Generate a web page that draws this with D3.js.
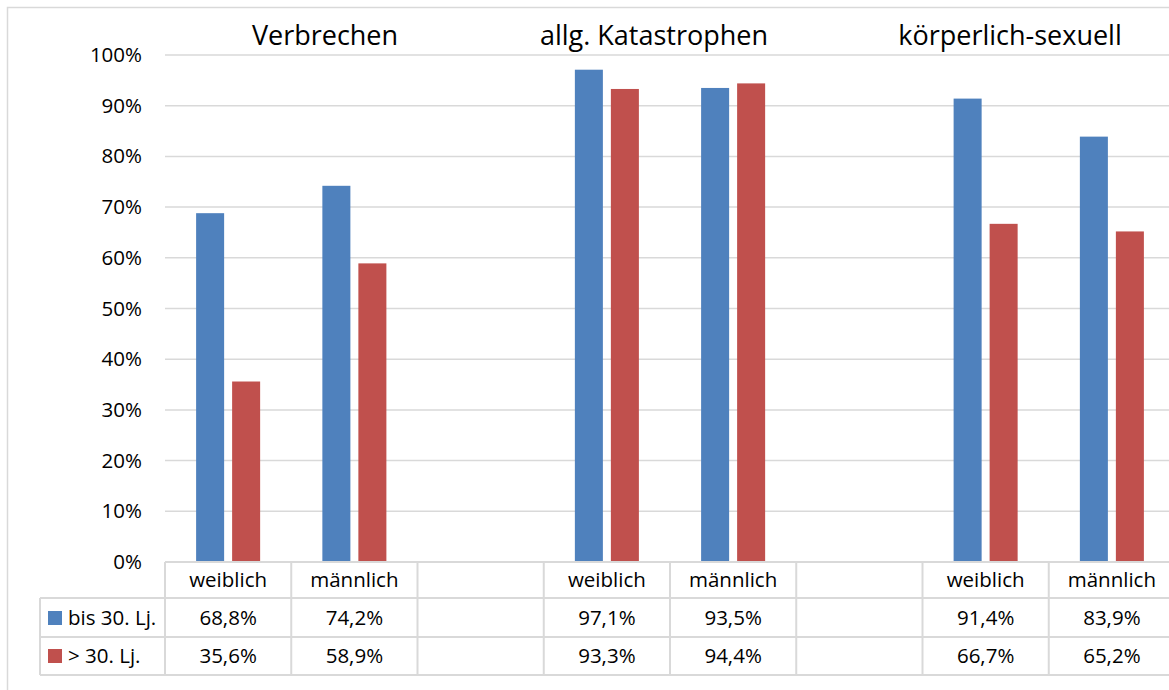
<!DOCTYPE html>
<html>
<head>
<meta charset="utf-8">
<script src="https://cdn.jsdelivr.net/npm/d3@7"></script>
<style>
  body { margin: 0; background: #fff; }
  svg { display: block; font-family: "Open Sans", sans-serif; }
</style>
</head>
<body>
<svg id="chart" width="1169" height="690"></svg>
<script>
// data
var categories = ["weiblich", "männlich", "", "weiblich", "männlich", "", "weiblich", "männlich"];
var seriesNames = ["bis 30. Lj.", "> 30. Lj."];
var seriesColors = ["#4F81BD", "#C0504D"];
var bis30 = [0.688, 0.742, null, 0.971, 0.935, null, 0.914, 0.839];
var ueber30 = [0.356, 0.589, null, 0.933, 0.944, null, 0.667, 0.652];
var groupTitles = ["Verbrechen", "allg. Katastrophen", "körperlich-sexuell"];
var yTicks = [0, 0.1, 0.2, 0.3, 0.4, 0.5, 0.6, 0.7, 0.8, 0.9, 1];

var svg = d3.select("#chart");
var gridColor = "#D9D9D9";
var fs = 20.5;
var fmtAxis = function(v){ return Math.round(v * 100) + "%"; };
var fmtCell = function(v){ return v == null ? "" : (v * 100).toFixed(1).replace(".", ",") + "%"; };

var plotLeft = 165, plotRight = 1175, plotTop = 55, plotBottom = 562;
var x = d3.scaleBand().domain(d3.range(categories.length)).range([plotLeft, plotRight]);
var xs = d3.scaleBand().domain([0, 1]).range([0, x.bandwidth()])
    .paddingInner(0.222).paddingOuter(0.864);
var y = d3.scaleLinear().domain([0, 1]).range([plotBottom, plotTop]);

// chart border (top/left visible)
svg.append("path")
    .attr("d", "M7.5,690 V7.5 H1169")
    .attr("fill", "none").attr("stroke", gridColor).attr("stroke-width", 1.5);

// gridlines
svg.append("g").selectAll("line")
    .data(yTicks.slice(1))
    .enter().append("line")
    .attr("x1", plotLeft).attr("x2", plotRight)
    .attr("y1", function(d){ return y(d); })
    .attr("y2", function(d){ return y(d); })
    .attr("stroke", gridColor).attr("stroke-width", 1.5);

// y axis labels
var yAxis = d3.axisLeft(y).tickValues(yTicks).tickFormat(fmtAxis).tickSize(0).tickPadding(0);
var ya = svg.append("g").attr("transform", "translate(142,0)").call(yAxis);
ya.select(".domain").remove();
ya.selectAll("text").attr("font-family", "Open Sans").attr("font-size", fs).attr("fill", "#000");

// bars
var series = [bis30, ueber30];
series.forEach(function(vals, si){
    svg.append("g").selectAll("rect")
        .data(vals.map(function(v, i){ return {i: i, v: v}; }).filter(function(d){ return d.v != null; }))
        .enter().append("rect")
        .attr("x", function(d){ return x(d.i) + xs(si); })
        .attr("width", xs.bandwidth())
        .attr("y", function(d){ return y(d.v); })
        .attr("height", function(d){ return y(0) - y(d.v); })
        .attr("fill", seriesColors[si]);
});

// group titles
var titleX = [325, 654, 1010];
svg.append("g").selectAll("text")
    .data(groupTitles)
    .enter().append("text")
    .attr("x", function(d, i){ return titleX[i]; })
    .attr("y", 45)
    .attr("text-anchor", "middle")
    .attr("font-size", 27)
    .text(function(d){ return d; });

// data table
var rowTop = [562, 598, 637], rowBottom = 675, legendLeft = 40;
var table = svg.append("g");
var tLine = function(x1, y1, x2, y2){
    table.append("line").attr("x1", x1).attr("y1", y1).attr("x2", x2).attr("y2", y2)
        .attr("stroke", gridColor).attr("stroke-width", 2);
};
tLine(plotLeft, rowTop[0], plotRight, rowTop[0]);
tLine(legendLeft, rowTop[1], plotRight, rowTop[1]);
tLine(legendLeft, rowTop[2], plotRight, rowTop[2]);
tLine(legendLeft, rowBottom, plotRight, rowBottom);
tLine(legendLeft, rowTop[1], legendLeft, rowBottom);
d3.range(categories.length + 1).forEach(function(i){
    var xx = i < categories.length ? x(i) : plotRight;
    tLine(xx, rowTop[0], xx, rowBottom);
});

table.selectAll("text.cat")
    .data(categories)
    .enter().append("text")
    .attr("class", "cat")
    .attr("x", function(d, i){ return x(i) + x.bandwidth() / 2; })
    .attr("y", 587)
    .attr("text-anchor", "middle")
    .attr("font-size", fs)
    .text(function(d){ return d; });

var rowBase = [625, 663];
series.forEach(function(vals, si){
    table.append("g").selectAll("text")
        .data(vals)
        .enter().append("text")
        .attr("x", function(d, i){ return x(i) + x.bandwidth() / 2; })
        .attr("y", rowBase[si])
        .attr("text-anchor", "middle")
        .attr("font-size", fs)
        .text(fmtCell);
    table.append("rect")
        .attr("x", 48).attr("y", rowBase[si] - 14)
        .attr("width", 14).attr("height", 14)
        .attr("fill", seriesColors[si]);
    table.append("text")
        .attr("x", 68).attr("y", rowBase[si])
        .attr("font-size", fs)
        .text(seriesNames[si]);
});
</script>
</body>
</html>
